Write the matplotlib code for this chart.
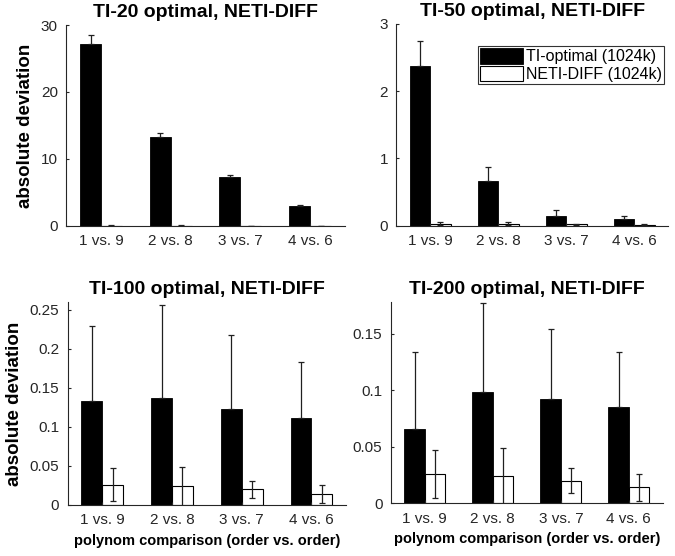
import numpy as np
import matplotlib
matplotlib.use("Agg")
import matplotlib.pyplot as plt

plt.rcParams['font.family'] = ['Liberation Sans', 'DejaVu Sans']

groups = ["1 vs. 9", "2 vs. 8", "3 vs. 7", "4 vs. 6"]
titles = ["TI-20 optimal, NETI-DIFF", "TI-50 optimal, NETI-DIFF",
          "TI-100 optimal, NETI-DIFF", "TI-200 optimal, NETI-DIFF"]

# TI-optimal means and error (std)
ti_mean = [[27.15, 13.3, 7.32, 2.88],
           [2.37, 0.67, 0.15, 0.10],
           [0.133, 0.137, 0.123, 0.111],
           [0.066, 0.098, 0.092, 0.085]]
ti_err = [[1.4, 0.6, 0.24, 0.18],
          [0.37, 0.20, 0.09, 0.05],
          [0.096, 0.119, 0.095, 0.072],
          [0.068, 0.079, 0.062, 0.049]]
# NETI-DIFF means and error
neti_mean = [[0.03, 0.03, 0.02, 0.02],
             [0.03, 0.03, 0.02, 0.015],
             [0.026, 0.024, 0.020, 0.014],
             [0.026, 0.024, 0.020, 0.014]]
neti_err = [[0.02, 0.02, 0.01, 0.01],
            [0.02, 0.02, 0.006, 0.006],
            [0.021, 0.025, 0.011, 0.012],
            [0.021, 0.025, 0.011, 0.012]]

ylims = [30, 3, 0.26, 0.178]
yticks = [[0, 10, 20, 30], [0, 1, 2, 3],
          [0, 0.05, 0.1, 0.15, 0.2, 0.25], [0, 0.05, 0.1, 0.15]]
ytlabels = [["0", "10", "20", "30"], ["0", "1", "2", "3"],
            ["0", "0.05", "0.1", "0.15", "0.2", "0.25"], ["0", "0.05", "0.1", "0.15"]]

positions = [[0.098, 0.594, 0.413, 0.361],
             [0.587, 0.594, 0.403, 0.363],
             [0.100, 0.092, 0.413, 0.365],
             [0.579, 0.095, 0.403, 0.362]]

fig = plt.figure(figsize=(6.75, 5.56), dpi=100)
gray = '#262626'
x = np.arange(1, 5)
w = 0.3

for i in range(4):
    ax = fig.add_axes(positions[i])
    ax.bar(x - w / 2, ti_mean[i], w, color='black', edgecolor='black', linewidth=0.6,
           label='TI-optimal (1024k)')
    ax.bar(x + w / 2, neti_mean[i], w, color='white', edgecolor='black', linewidth=0.8,
           label='NETI-DIFF (1024k)')
    # lower half hidden inside the black bar, so draw the upper half only
    ax.errorbar(x - w / 2, ti_mean[i], yerr=[np.zeros(4), ti_err[i]], fmt='none',
                ecolor='#202020', elinewidth=0.9, capsize=2.5, capthick=0.9)
    ax.errorbar(x + w / 2, neti_mean[i], yerr=neti_err[i], fmt='none', ecolor='#202020',
                elinewidth=0.9, capsize=2.5, capthick=0.9)
    ax.set_xlim(0.5, 4.5)
    ax.set_ylim(0, ylims[i])
    ax.set_xticks(x)
    ax.set_xticklabels(groups)
    ax.set_yticks(yticks[i])
    ax.set_yticklabels(ytlabels[i])
    ax.tick_params(direction='in', length=2, labelsize=11, colors=gray, pad=6)
    for s in ['top', 'right']:
        ax.spines[s].set_visible(False)
    for s in ['left', 'bottom']:
        ax.spines[s].set_color(gray)
        ax.spines[s].set_linewidth(0.8)
    ax.set_title(titles[i], fontsize=14, fontweight='bold', pad=6)
    if i in (0, 2):
        ax.set_ylabel("absolute deviation", fontsize=13.5, fontweight='bold', labelpad=5)
    if i in (2, 3):
        ax.set_xlabel("polynom comparison (order vs. order)", fontsize=10.5, fontweight='bold', labelpad=5)
    if i == 1:
        ax.legend(loc='upper right', bbox_to_anchor=(0.985, 0.891), fontsize=11.5,
                  frameon=True, fancybox=False, edgecolor='black', handlelength=2.7,
                  handleheight=1.1, handletextpad=0.15, borderpad=0.15, labelspacing=0.1,
                  borderaxespad=0).get_frame().set_linewidth(0.8)

fig.savefig("out.png", dpi=100)
